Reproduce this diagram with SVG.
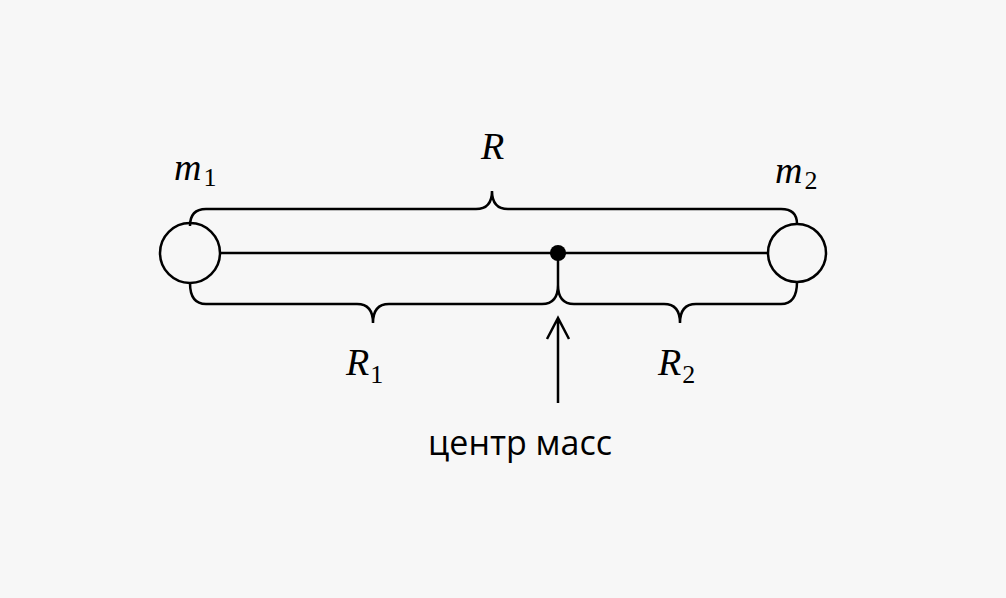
<svg xmlns="http://www.w3.org/2000/svg" width="1006" height="598" viewBox="0 0 1006 598">
<style>
.l{fill:none;stroke:#000;stroke-width:2.5}
.m{font-family:"Liberation Serif",serif;font-style:italic;font-size:38px}
.s{font-family:"Liberation Serif",serif;font-size:26px}
.t{font-family:"Open Sans","Noto Sans",sans-serif;font-size:34px}
</style>
<rect width="1006" height="598" fill="#f7f7f7"/>
<g id="connectors">
<line class="l" x1="220" y1="253" x2="767" y2="253"/>
<path class="l" d="M190,226 Q190,209 206,209 L476,209 Q492,209 492,191 Q492,209 508,209 L781,209 Q797,209 797,224"/>
<path class="l" d="M190,283 Q190,304 206,304 L357,304 Q373,304 373,323 Q373,304 389,304 L542,304 Q558,304 558,285 Q558,304 574,304 L664,304 Q680,304 680,323 Q680,304 696,304 L781,304 Q797,304 797,282"/>
<line class="l" x1="558" y1="253" x2="558" y2="285"/>
<path class="l" d="M558,403 L558,318 M547,339 L558,318 L569,339"/>
</g>
<g id="m1node"><circle class="l" cx="190" cy="253" r="30"/><text class="m" x="174" y="180">m<tspan class="s" dx="2" dy="6" font-style="normal">1</tspan></text></g>
<g id="m2node"><circle class="l" cx="797" cy="253" r="29"/><text class="m" x="775" y="183">m<tspan class="s" dx="2" dy="6" font-style="normal">2</tspan></text></g>
<g id="center"><circle cx="558" cy="253" r="8" fill="#000"/><text class="t" x="520" y="455" text-anchor="middle">центр масс</text></g>
<g id="labels">
<text class="m" x="481" y="159">R</text>
<text class="m" x="346" y="375">R<tspan class="s" dx="1" dy="8" font-style="normal">1</tspan></text>
<text class="m" x="658" y="375">R<tspan class="s" dx="1" dy="8" font-style="normal">2</tspan></text>
</g>
</svg>
